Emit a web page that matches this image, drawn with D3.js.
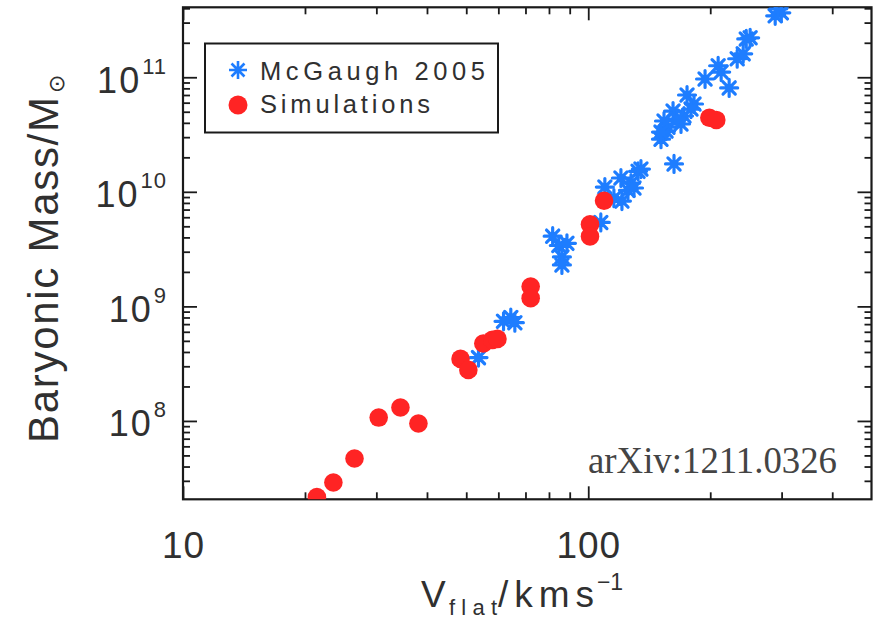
<!DOCTYPE html>
<html><head><meta charset="utf-8">
<script src="https://cdn.jsdelivr.net/npm/d3@7"></script>
<style>body{margin:0;background:#fff}svg{display:block}</style>
</head><body><svg id="c" width="879" height="618"></svg>
<script>
// ---- data ----
const mcgaughV = [53.6, 61.8, 64.4, 65.9, 81.7, 84.6, 88.6, 86.1, 86.1, 107.4,
  109.9, 115.7, 121.1, 120.4, 125.3, 127.5, 132.7, 129.7, 134.9, 162.8,
  151.2, 155.6, 157.3, 161.9, 169.4, 172.3, 165.6, 175.3, 182.4, 179.3,
  194.2, 209.2, 212.8, 222.7, 233.1, 241.2, 245.4, 250.9, 289.3, 299.5,
  294.4, 153.8, 151.2];
const mcgaughM = [3.57e8, 7.4e8, 8.0e8, 7.2e8, 4.1e9, 3.4e9, 3.55e9, 2.7e9, 2.3e9, 5.4e9,
  1.1e10, 8.8e9, 8.3e9, 1.32e10, 1.03e10, 1.19e10, 1.51e10, 1.08e10, 1.58e10, 1.75e10,
  2.88e10, 3.39e10, 3.67e10, 5.07e10, 3.91e10, 4.59e10, 4.32e10, 7.0e10, 5.84e10, 5.28e10,
  9.66e10, 1.26e11, 1.11e11, 8.07e10, 1.45e11, 1.60e11, 2.16e11, 2.21e11, 3.44e11, 3.65e11,
  3.96e11, 4.15e10, 3.32e10];
const simV = [21.4, 23.5, 26.5, 30.4, 34.4, 38.1, 48.4, 50.6, 55.1, 58.0,
  59.7, 72.1, 72.1, 101, 101, 109.4, 199, 207];
const simM = [2.17e7, 2.9e7, 4.7e7, 1.07e8, 1.31e8, 9.5e7, 3.48e8, 2.79e8, 4.74e8, 5.1e8,
  5.2e8, 1.49e9, 1.18e9, 5.2e9, 4.08e9, 8.36e9, 4.43e10, 4.24e10];

const xMajorTicks = [10, 100];
const xTickLabels = ["10", "100"];
const xMinorTicks = [20, 30, 40, 50, 60, 70, 80, 90, 200, 300, 400];
const yMajorExps = [8, 9, 10, 11];
const yTickBase = "10";
const legendLabels = ["McGaugh 2005", "Simulations"];
const xDomain = [10, 500];
const yDomain = [2.07e7, 4.08e11];
const note = "arXiv:1211.0326";

// ---- drawing ----
const BLUE = "#1e7dff", RED = "#ff2424", INK = "#1a1a1a", TXT = "#303030";
const FONT = "'Liberation Sans', Arial, Helvetica, sans-serif";
const svg = d3.select("#c");
const P = {left: 183, right: 871.5, top: 7.3, bottom: 499.3};
const x = d3.scaleLog().domain(xDomain).range([P.left, P.right]);
const y = d3.scaleLog().domain(yDomain).range([P.bottom, P.top]);

const yMajorVals = yMajorExps.map(e => Math.pow(10, e));
const yMinor = [];
for (let e = 7; e <= 11; e++) for (let k = 2; k <= 9; k++) {
  const v = k * Math.pow(10, e);
  if (v > yDomain[0] * 1.01 && v < yDomain[1] * 0.99) yMinor.push(v);
}

function axisG(gen, tx, ty) {
  const g = svg.append("g").attr("transform", `translate(${tx},${ty})`).call(gen);
  g.select(".domain").remove();
  g.selectAll("line").attr("stroke", INK).attr("stroke-width", 1.8);
  return g;
}
// bottom / top
axisG(d3.axisBottom(x).tickValues(xMinorTicks).tickSize(-7).tickSizeOuter(0).tickFormat(""), 0, P.bottom);
axisG(d3.axisTop(x).tickValues(xMinorTicks).tickSize(-7).tickSizeOuter(0).tickFormat(""), 0, P.top);
axisG(d3.axisTop(x).tickValues(xMajorTicks).tickSize(-13).tickSizeOuter(0).tickFormat(""), 0, P.top);
const xb = axisG(d3.axisBottom(x).tickValues(xMajorTicks).tickSize(-13).tickSizeOuter(0)
  .tickPadding(32).tickFormat((d, i) => xTickLabels[i]), 0, P.bottom);
xb.selectAll("text").attr("font-family", FONT).attr("font-size", 37).attr("fill", TXT)
  .attr("letter-spacing", 1);
// left / right
axisG(d3.axisLeft(y).tickValues(yMinor).tickSize(-7).tickSizeOuter(0).tickFormat(""), P.left, 0);
axisG(d3.axisLeft(y).tickValues(yMajorVals).tickSize(-14).tickSizeOuter(0).tickFormat(""), P.left, 0);
axisG(d3.axisRight(y).tickValues(yMinor).tickSize(-7).tickSizeOuter(0).tickFormat(""), P.right, 0);
axisG(d3.axisRight(y).tickValues(yMajorVals).tickSize(-14).tickSizeOuter(0).tickFormat(""), P.right, 0);

// frame
svg.append("rect").attr("x", P.left).attr("y", P.top)
  .attr("width", P.right - P.left).attr("height", P.bottom - P.top)
  .attr("fill", "none").attr("stroke", INK).attr("stroke-width", 2.2);

// y tick labels 10^n
yMajorExps.forEach(e => {
  const t = svg.append("text").attr("x", 167).attr("y", y(Math.pow(10, e)) + 15.5)
    .attr("text-anchor", "end").attr("font-family", FONT).attr("font-size", 36).attr("fill", TXT);
  t.append("tspan").attr("letter-spacing", 2).text(yTickBase);
  t.append("tspan").attr("dy", -19).attr("font-size", 22).attr("dx", 1).attr("letter-spacing", 1).text(String(e));
});

// clip
svg.append("clipPath").attr("id", "clip").append("rect")
  .attr("x", P.left).attr("y", P.top).attr("width", P.right - P.left).attr("height", P.bottom - P.top);

function starPath(s) {
  const a = s * 0.72;
  return `M${-s},0L${s},0M0,${-s}L0,${s}M${-a},${-a}L${a},${a}M${-a},${a}L${a},${-a}`;
}
const data = svg.append("g").attr("clip-path", "url(#clip)");
data.selectAll("path.mc").data(d3.range(mcgaughV.length)).join("path").attr("class", "mc")
  .attr("transform", i => `translate(${x(mcgaughV[i])},${y(mcgaughM[i])})`)
  .attr("d", starPath(8.5)).attr("stroke", BLUE).attr("stroke-width", 3.2).attr("fill", "none")
  .attr("stroke-linecap", "round");
data.selectAll("circle.sim").data(d3.range(simV.length)).join("circle").attr("class", "sim")
  .attr("cx", i => x(simV[i])).attr("cy", i => y(simM[i])).attr("r", 9.3).attr("fill", RED);

// legend
const lg = svg.append("g");
lg.append("rect").attr("x", 205).attr("y", 43.5).attr("width", 293).attr("height", 89)
  .attr("fill", "#fff").attr("stroke", INK).attr("stroke-width", 2);
lg.append("path").attr("transform", "translate(238,70)").attr("d", starPath(9))
  .attr("stroke", BLUE).attr("stroke-width", 2.6).attr("fill", "none");
lg.append("circle").attr("cx", 238).attr("cy", 105).attr("r", 9.5).attr("fill", RED);
lg.append("text").attr("x", 260).attr("y", 80).attr("font-family", FONT).attr("font-size", 25.5)
  .attr("fill", TXT).attr("textLength", 225).attr("lengthAdjust", "spacing").text(legendLabels[0]);
lg.append("text").attr("x", 260).attr("y", 113).attr("font-family", FONT).attr("font-size", 25.5)
  .attr("fill", TXT).attr("textLength", 170).attr("lengthAdjust", "spacing").text(legendLabels[1]);

// note
svg.append("text").attr("x", 588).attr("y", 473).attr("font-family", "'Liberation Serif', 'Times New Roman', serif")
  .attr("font-size", 38).attr("fill", "#444").attr("textLength", 249).attr("lengthAdjust", "spacingAndGlyphs")
  .text(note);

// x title: V_flat / kms^-1
const xt = svg.append("g").attr("font-family", FONT).attr("fill", TXT);
xt.append("text").attr("x", 421).attr("y", 607).attr("font-size", 37).text("V");
xt.append("text").attr("x", 449).attr("y", 614.5).attr("font-size", 22).attr("textLength", 48)
  .attr("lengthAdjust", "spacing").text("flat");
xt.append("text").attr("x", 498).attr("y", 607).attr("font-size", 37).attr("textLength", 96)
  .attr("lengthAdjust", "spacing").text("/kms");
xt.append("text").attr("x", 597).attr("y", 590).attr("font-size", 23).attr("textLength", 26)
  .attr("lengthAdjust", "spacing").text("\u22121");

// y title: Baryonic Mass/M_sun
const yt = svg.append("g").attr("transform", "translate(58,443) rotate(-90)")
  .attr("font-family", FONT).attr("fill", TXT);
yt.append("text").attr("x", 0).attr("y", 0).attr("font-size", 42).attr("textLength", 346)
  .attr("lengthAdjust", "spacing").text("Baryonic Mass/M");
yt.append("text").attr("x", 350).attr("y", 6).attr("font-size", 22)
  .attr("font-family", "'DejaVu Sans', sans-serif").text("\u2299");
</script></body></html>
